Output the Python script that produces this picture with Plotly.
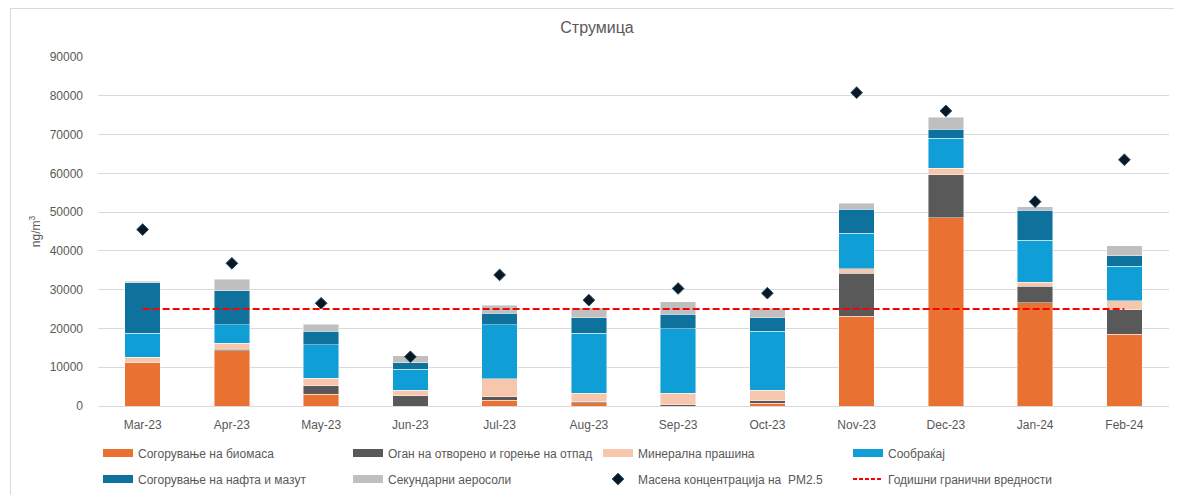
import plotly.graph_objects as go

months = ["Mar-23", "Apr-23", "May-23", "Jun-23", "Jul-23", "Aug-23",
          "Sep-23", "Oct-23", "Nov-23", "Dec-23", "Jan-24", "Feb-24"]

biomass   = [11200, 14300, 3000,    0, 1500,  800,    0,  700, 23200, 48600, 26600, 18500]
open_burn = [    0,   300, 2200, 2600,  900,  300,  300,  700, 11000, 11000,  4300,  6300]
mineral   = [ 1400,  1600, 1900, 1500, 4600, 2200, 3000, 2700,  1200,  1700,  1000,  2400]
traffic   = [ 6200,  4700, 8700, 5400, 13900, 15500, 16600, 15200, 9100,  7800, 10900,  8900]
oil       = [13000,  8800, 3500, 1600, 3000, 4000, 3700, 3500,  6300,  2300,  7700,  2700]
secondary = [  400,  3000, 1800, 1800, 2100, 2600, 3300, 2400,  1500,  3000,   900,  2500]
pm25      = [45500, 36800, 26500, 12700, 33800, 27300, 30300, 29100, 80800, 76100, 52700, 63500]
limit     = [25000] * len(months)

series = [
    ("Согорување на биомаса", biomass, "#E97132"),
    ("Оган на отворено и горење на отпад", open_burn, "#595959"),
    ("Минерална прашина", mineral, "#F6C6AD"),
    ("Сообраќај", traffic, "#0F9ED5"),
    ("Согорување на нафта и мазут", oil, "#0E729C"),
    ("Секундарни аеросоли", secondary, "#BFBFBF"),
]

FONT = "Liberation Sans, Arial, sans-serif"
TXT = "#595959"

fig = go.Figure()
for name, vals, col in series:
    fig.add_trace(go.Bar(x=months, y=vals, name=name, marker_color=col,
                         marker_line=dict(color="rgba(255,255,255,0.6)", width=0.75),
                         showlegend=False))

fig.add_trace(go.Scatter(x=months, y=pm25, mode="markers", showlegend=False,
                         marker=dict(symbol="diamond", size=9, color="#0b1823",
                                     line=dict(color="#1d4f6e", width=1))))
fig.add_trace(go.Scatter(x=months, y=limit, mode="lines", showlegend=False,
                         line=dict(color="#FF0000", width=2, dash="7px,3px")))

# legend entries (two rows, two legends)
for i, (name, _, col) in enumerate(series):
    fig.add_trace(go.Scatter(x=[None], y=[None], mode="lines", name=name,
                             line=dict(color=col, width=8),
                             legend="legend" if i < 4 else "legend2"))
fig.add_trace(go.Scatter(x=[None], y=[None], mode="markers",
                         name="Масена концентрација на  PM2.5",
                         marker=dict(symbol="diamond", size=9, color="#0b1823",
                                     line=dict(color="#1d4f6e", width=1)),
                         legend="legend2"))
fig.add_trace(go.Scatter(x=[None], y=[None], mode="lines",
                         name="Годишни гранични вредности",
                         line=dict(color="#FF0000", width=2, dash="4px,2px"),
                         legend="legend2"))

# page body adds an 8px offset; size the figure so that it fills the window
OFF = 8
W, H = 1182 - OFF, 495 - OFF
L, R, T, B = 98 - OFF, 13, 57 - OFF, 89
ph = H - T - B
pw = W - L - R

def py(p):  # screenshot pixel -> paper y
    return 1 - ((p - OFF) - T) / ph

def px(p):  # screenshot pixel -> paper x
    return ((p - OFF) - L) / pw

leg_common = dict(orientation="h", entrywidth=205, entrywidthmode="pixels",
                  traceorder="normal",
                  font=dict(family=FONT, size=12, color=TXT),
                  bgcolor="rgba(0,0,0,0)", xanchor="left", yanchor="middle",
                  itemclick=False, itemdoubleclick=False)

fig.update_layout(
    width=W, height=H,
    margin=dict(l=L, r=R, t=T, b=B, autoexpand=False),
    barmode="stack", bargap=0.6,
    plot_bgcolor="white", paper_bgcolor="white",
    font=dict(family=FONT, size=12, color=TXT),
    title=dict(text="Струмица", x=px(597), xref="paper", xanchor="center",
               y=1 - (27 - OFF) / H, yanchor="middle",
               font=dict(family=FONT, size=16, color=TXT)),
    legend=dict(x=px(98), y=py(453), **leg_common),
    legend2=dict(x=px(98), y=py(479), **leg_common),
    xaxis=dict(type="category", range=[-0.5, len(months) - 0.5],
               showgrid=False, showline=False, ticks="", automargin=False,
               ticklabelstandoff=10,
               tickfont=dict(family=FONT, size=12, color=TXT)),
    yaxis=dict(range=[0, 90000], dtick=10000, tickformat="d", showgrid=True,
               gridcolor="#D9D9D9", gridwidth=1, zeroline=True,
               zerolinecolor="#D9D9D9", zerolinewidth=1,
               ticks="", ticklabelstandoff=14, automargin=False,
               tickfont=dict(family=FONT, size=12, color=TXT),
               title=dict(text="ng/m<sup>3</sup>", standoff=6,
                          font=dict(family=FONT, size=12, color=TXT))),
    shapes=[
        dict(type="line", xref="paper", yref="paper", x0=px(10), x1=px(1182),
             y0=py(8.5), y1=py(8.5), line=dict(color="#D9D9D9", width=1)),
        dict(type="line", xref="paper", yref="paper", x0=px(10.5), x1=px(10.5),
             y0=py(8.5), y1=py(495), line=dict(color="#D9D9D9", width=1)),
    ],
)

fig.write_html("out.html")
